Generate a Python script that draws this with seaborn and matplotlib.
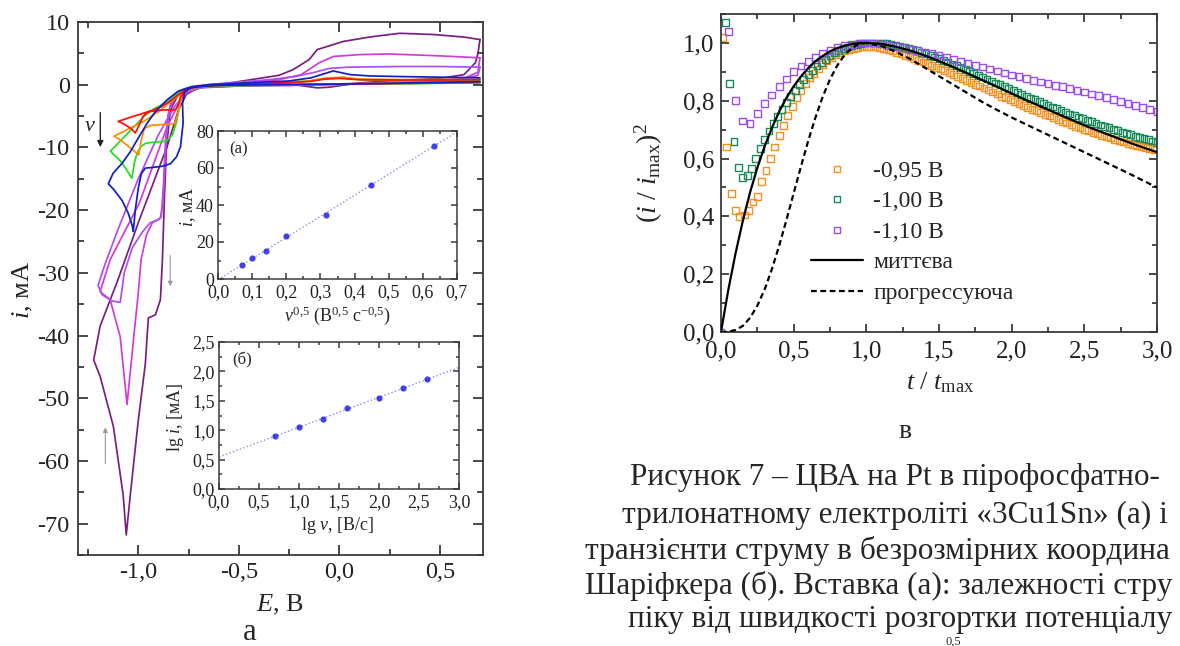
import numpy as np
import pandas as pd
import matplotlib
matplotlib.use("Agg")
import matplotlib.pyplot as plt
import seaborn as sns
from matplotlib.ticker import MultipleLocator, FuncFormatter
from matplotlib.lines import Line2D

# ---------------- CV data (E, V ; i, mA) ----------------
E_red = [0.70, 0.45, 0.20, -0.10, -0.40, -0.62, -0.72, -0.77, -0.80, -0.84, -0.88, -0.93, -0.99, -1.04, -1.10,
         -1.07, -1.04, -1.015, -0.995, -0.975, -0.95, -0.90, -0.85, -0.815, -0.80, -0.79, -0.77, -0.72, -0.60,
         -0.40, -0.25, -0.15, -0.07, 0.00, 0.10, 0.30, 0.50, 0.70]
I_red = [0.35, 0.25, 0.15, 0.05, 0.0, -0.1, -0.4, -0.9, -1.6, -2.6, -3.4, -4.1, -4.7, -5.2, -5.85,
         -6.3, -6.9, -7.7, -6.4, -5.0, -4.3, -4.1, -4.0, -4.0, -3.2, -2.0, -1.0, -0.3, 0.0,
         0.2, 0.35, 0.5, 0.9, 1.0, 0.8, 0.75, 0.75, 0.8]

E_orange = [0.70, 0.45, 0.20, -0.10, -0.40, -0.62, -0.72, -0.77, -0.80, -0.85, -0.90, -0.96, -1.02, -1.07, -1.121,
            -1.09, -1.05, -1.02, -0.998, -0.985, -0.97, -0.94, -0.90, -0.85, -0.82, -0.80, -0.79, -0.775, -0.73,
            -0.60, -0.40, -0.25, -0.15, -0.06, 0.02, 0.10, 0.30, 0.50, 0.70]
I_orange = [0.4, 0.3, 0.2, 0.05, 0.0, -0.1, -0.4, -1.0, -1.8, -3.0, -4.3, -5.6, -6.6, -7.4, -8.2,
            -8.8, -9.8, -10.6, -11.2, -8.8, -7.0, -6.5, -6.4, -6.3, -6.2, -4.5, -2.8, -1.2, -0.3,
            0.0, 0.2, 0.4, 0.6, 1.1, 1.2, 0.9, 0.8, 0.85, 0.9]

E_green = [0.70, 0.45, 0.20, -0.10, -0.40, -0.62, -0.72, -0.78, -0.82, -0.86, -0.92, -0.973, -1.03, -1.09, -1.139,
           -1.11, -1.08, -1.05, -1.032, -1.02, -1.005, -0.985, -0.96, -0.90, -0.86, -0.83, -0.81, -0.80, -0.795,
           -0.78, -0.74, -0.60, -0.40, -0.25, -0.15, -0.06, 0.02, 0.10, 0.30, 0.50, 0.70]
I_green = [0.3, 0.2, 0.1, 0.0, -0.1, -0.2, -0.5, -1.0, -1.8, -2.8, -3.8, -5.1, -7.0, -9.0, -10.6,
           -11.5, -12.5, -14.0, -14.9, -12.5, -10.8, -9.8, -9.3, -9.1, -9.0, -8.0, -6.0, -4.0, -2.5,
           -1.2, -0.3, 0.0, 0.2, 0.4, 0.6, 1.0, 1.1, 0.8, 0.6, 0.6, 0.6]

E_blue = [0.70, 0.45, 0.20, -0.10, -0.40, -0.60, -0.70, -0.76, -0.80, -0.86, -0.92, -0.955, -1.00, -1.04, -1.08,
          -1.125, -1.149, -1.12, -1.08, -1.05, -1.03, -1.025, -1.015, -1.00, -0.985, -0.965, -0.93, -0.88, -0.84,
          -0.81, -0.79, -0.777, -0.78, -0.77, -0.74, -0.65, -0.45, -0.25, -0.14, -0.07, -0.03, 0.055, 0.15,
          0.30, 0.50, 0.70]
I_blue = [0.5, 0.35, 0.2, 0.05, 0.0, -0.1, -0.3, -0.6, -1.0, -2.5, -4.5, -6.1, -8.5, -10.7, -12.5,
          -14.1, -15.8, -16.8, -18.5, -20.5, -22.5, -23.4, -20.0, -16.5, -14.2, -13.3, -13.2, -13.0, -12.6,
          -11.5, -9.9, -6.1, -3.0, -1.2, -0.4, 0.0, 0.3, 0.6, 1.1, 1.8, 2.2, 1.6, 1.4,
          1.3, 1.2, 1.1]

E_violet = [0.70, 0.69, 0.60, 0.40, 0.10, -0.20, -0.50, -0.68, -0.76, -0.82, -0.90, -1.00, -1.10, -1.17, -1.20,
            -1.18, -1.13, -1.09, -1.07, -1.03, -0.98, -0.94, -0.90, -0.885, -0.875, -0.865, -0.85, -0.82, -0.78,
            -0.72, -0.55, -0.35, -0.22, -0.12, -0.05, 0.05, 0.30, 0.50, 0.70]
I_violet = [2.8, 1.5, 0.8, 0.5, 0.2, 0.0, -0.1, -0.4, -1.2, -3.5, -8.0, -15.0, -23.0, -29.0, -32.0,
            -33.5, -34.5, -34.7, -30.0, -26.0, -23.5, -22.0, -21.5, -21.0, -16.0, -9.0, -4.5, -2.0, -0.8,
            -0.2, 0.3, 0.8, 1.3, 2.0, 2.6, 2.8, 2.9, 2.9, 2.8]

E_magenta = [0.70, 0.69, 0.62, 0.40, 0.00, -0.40, -0.68, -0.76, -0.80, -0.86, -0.995, -1.14, -1.19, -1.14, -1.09,
             -1.056, -1.025, -1.00, -0.986, -0.96, -0.93, -0.89, -0.875, -0.865, -0.855, -0.84, -0.81, -0.76,
             -0.65, -0.45, -0.30, -0.19, -0.10, -0.03, 0.10, 0.25, 0.50, 0.69, 0.70]
I_magenta = [4.3, 2.0, 1.0, 0.5, 0.1, -0.1, -0.4, -1.2, -3.0, -7.0, -18.9, -27.9, -33.0, -34.3, -40.2,
             -51.0, -41.0, -33.2, -27.9, -24.0, -22.0, -21.3, -18.0, -11.0, -6.0, -3.0, -1.5, -0.5,
             0.0, 0.4, 0.8, 1.6, 3.5, 4.5, 4.8, 4.9, 4.6, 4.3, 4.3]

E_purple = [0.70, 0.69, 0.677, 0.62, 0.50, 0.30, 0.10, -0.05, -0.11, -0.20, -0.50, -0.70, -0.76, -0.80, -0.856,
            -1.00, -1.10, -1.19, -1.222, -1.19, -1.124, -1.075, -1.06, -1.04, -1.00, -0.965, -0.95, -0.915, -0.89,
            -0.88, -0.87, -0.86, -0.84, -0.80, -0.75, -0.66, -0.50, -0.30, -0.23, -0.15, -0.11, 0.02, 0.15,
            0.30, 0.47, 0.62, 0.70]
I_purple = [7.2, 5.0, 3.5, 1.6, 1.0, 0.7, 0.3, -0.4, -0.5, -0.1, -0.2, -0.5, -1.5, -4.0, -9.8,
            -22.0, -31.0, -38.5, -43.9, -46.5, -54.5, -65.5, -71.8, -65.5, -53.5, -44.5, -37.2, -36.7, -34.3,
            -27.9, -18.0, -10.0, -4.0, -1.5, -0.5, -0.3, 0.5, 1.5, 2.4, 4.0, 5.6, 6.9, 7.6,
            8.2, 8.0, 7.6, 7.2]

# ---------------- Inset data ----------------
sqrt_v = [0.0707, 0.100, 0.141, 0.200, 0.316, 0.447, 0.632]
i_peak = [7.7, 11.3, 14.9, 23.4, 34.7, 50.9, 71.9]
lg_v = [0.70, 1.00, 1.30, 1.60, 2.00, 2.30, 2.60]
lg_i = [0.896, 1.06, 1.185, 1.378, 1.548, 1.712, 1.865]

# ---------------- Scharifker transients ----------------
t0_095, dt_095 = 0.01, 0.03
y_095 = [1.02, 0.64, 0.48, 0.42, 0.40, 0.405, 0.42, 0.45,
         0.47, 0.52, 0.56, 0.60, 0.64, 0.68, 0.715, 0.75, 0.78, 0.81, 0.835, 0.86, 0.88, 0.895, 0.91,
         0.925, 0.94,
         0.95, 0.96, 0.967, 0.973, 0.978, 0.982, 0.985, 0.987, 0.988, 0.988,
         0.987, 0.985, 0.981, 0.977, 0.972, 0.967, 0.962, 0.957, 0.952, 0.946,
         0.940, 0.934, 0.928, 0.922, 0.916, 0.910, 0.904, 0.897, 0.890, 0.884,
         0.877, 0.871, 0.864, 0.857, 0.851, 0.844, 0.837, 0.830, 0.823, 0.816,
         0.810, 0.804, 0.797, 0.790, 0.784, 0.777, 0.771, 0.765, 0.759, 0.753,
         0.747, 0.741, 0.735, 0.729, 0.723, 0.717, 0.712, 0.706, 0.701, 0.696,
         0.691, 0.686, 0.681, 0.676, 0.671, 0.666, 0.661, 0.657, 0.653, 0.649,
         0.645, 0.641, 0.637, 0.634, 0.631]
t0_100, dt_100 = 0.03, 0.03
y_100 = [1.07, 0.86, 0.66, 0.57, 0.535, 0.54, 0.565, 0.60, 0.635, 0.665,
         0.695, 0.72, 0.745, 0.77, 0.795, 0.815, 0.835, 0.855, 0.873, 0.89,
         0.905, 0.92, 0.932, 0.944, 0.955, 0.965, 0.973, 0.98, 0.986, 0.991,
         0.995, 0.998, 1.0, 1.0, 1.0, 1.0,
         0.999, 0.997, 0.994, 0.992, 0.988, 0.985, 0.981, 0.976, 0.973, 0.968,
         0.962, 0.957, 0.951, 0.945, 0.939, 0.934, 0.927, 0.921, 0.914, 0.908,
         0.902, 0.895, 0.888, 0.882, 0.875, 0.868, 0.861, 0.855, 0.848, 0.842,
         0.835, 0.829, 0.822, 0.815, 0.809, 0.803, 0.796, 0.790, 0.784, 0.778,
         0.772, 0.766, 0.760, 0.754, 0.748, 0.743, 0.738, 0.732, 0.727, 0.722,
         0.716, 0.711, 0.706, 0.701, 0.696, 0.691, 0.687, 0.682, 0.677, 0.673,
         0.669, 0.665, 0.661, 0.655]
t0_110, dt_110 = 0.0, 0.05
y_110 = [0.0, 1.04, 0.80, 0.73, 0.72, 0.755, 0.79, 0.82, 0.85, 0.875,
         0.90, 0.92, 0.935, 0.95, 0.962, 0.975, 0.985, 0.99, 0.995, 1.0,
         1.0, 1.0, 0.996, 0.992, 0.988, 0.983, 0.978, 0.973, 0.968, 0.963,
         0.958, 0.951, 0.944, 0.937, 0.930, 0.923, 0.917, 0.910, 0.903, 0.896,
         0.889, 0.883, 0.877, 0.871, 0.865, 0.859, 0.853, 0.848, 0.842, 0.836,
         0.830, 0.823, 0.817, 0.810, 0.803, 0.797, 0.790, 0.783, 0.777, 0.770,
         0.763]
t_inst = [0, .05, .1, .15, .2, .25, .3, .35, .4, .45, .5, .55, .6, .65, .7, .75, .8, .85, .9, .95,
          1.0, 1.1, 1.2, 1.3, 1.4, 1.5, 1.6, 1.7, 1.8, 1.9, 2.0, 2.1, 2.2, 2.3, 2.4, 2.5, 2.6, 2.7, 2.8, 2.9, 3.0]
y_inst = [0, .145, .272, .384, .483, .568, .642, .706, .762, .810, .850, .884, .913, .937, .955, .971, .982,
          .990, .996, .999, 1.0, .997, .987, .974, .957, .937, .916, .894, .871, .848, .825, .802, .780, .758,
          .736, .715, .695, .676, .657, .639, .622]
t_prog = [0, .05, .1, .15, .2, .25, .3, .35, .4, .45, .5, .55, .6, .65, .7, .75, .8, .85, .9, .95,
          1.0, 1.1, 1.2, 1.3, 1.4, 1.5, 1.6, 1.7, 1.8, 1.9, 2.0, 2.2, 2.4, 2.6, 2.8, 3.0]
y_prog = [0, .001, .007, .021, .049, .091, .147, .217, .298, .387, .480, .572, .661, .742, .814, .874, .922,
          .958, .982, .996, 1.0, .99, .97, .945, .915, .885, .855, .825, .795, .768, .742, .694, .646, .598,
          .55, .50]

legend_labels = ["-0,95 В", "-1,00 В", "-1,10 В", "миттєва", "прогрессуюча"]
caption = [("Рисунок 7 – ЦВА на Pt в пірофосфатно-", 630, 477),
           ("трилонатному електроліті «3Cu1Sn» (а) і", 622, 515),
           ("транзієнти струму в безрозмірних координа", 585, 551),
           ("Шаріфкера (б). Вставка (а): залежності стру", 585, 586),
           ("піку від швидкості розгортки потенціалу", 628, 620)]

# ---------------- style ----------------
sns.set_style("ticks")
plt.rcParams["font.family"] = ["Liberation Serif", "DejaVu Serif"]
plt.rcParams["mathtext.fontset"] = "custom"
plt.rcParams["mathtext.rm"] = "Liberation Serif"
plt.rcParams["mathtext.it"] = "Liberation Serif:italic"
plt.rcParams["mathtext.bf"] = "Liberation Serif:bold"
plt.rcParams["axes.unicode_minus"] = False

W, H = 1180, 646
fig = plt.figure(figsize=(W / 100, H / 100), dpi=100)


def add_ax(l, t, r, b):
    return fig.add_axes([l / W, 1 - b / H, (r - l) / W, (b - t) / H])


def fmt(dec):
    def f(v, p):
        if abs(v) < 1e-9:
            v = 0.0
        return f"{v:.{dec}f}".replace(".", ",")
    return FuncFormatter(f)


SP = "#3a3a3a"


def style(ax, fs, maj, mnr, lw=1.3, padx=3, pady=3):
    for s in ax.spines.values():
        s.set_visible(True)
        s.set_linewidth(lw)
        s.set_color(SP)
    ax.tick_params(which="both", direction="in", top=True, right=True, colors=SP,
                   width=lw, labelsize=fs, labelcolor="#222222")
    ax.tick_params(axis="x", which="both", pad=padx)
    ax.tick_params(axis="y", which="both", pad=pady)
    ax.tick_params(which="major", length=maj)
    ax.tick_params(which="minor", length=mnr)


# ---------------- main CV axes ----------------
ax = add_ax(78, 22, 483, 555)
loops = [(E_purple, I_purple, "#7a1f80"),
         (E_magenta, I_magenta, "#d03cd8"),
         (E_violet, I_violet, "#b04cf2"),
         (E_green, I_green, "#22dd22"),
         (E_orange, I_orange, "#ff8c00"),
         (E_red, I_red, "#ff1010"),
         (E_blue, I_blue, "#1020c8")]
for E, I, c in loops:
    sns.lineplot(x=E, y=I, sort=False, estimator=None, color=c, lw=1.25, ax=ax)
ax.set_xlim(-1.3, 0.715)
ax.set_ylim(-75, 10)
ax.xaxis.set_major_locator(MultipleLocator(0.5))
ax.xaxis.set_minor_locator(MultipleLocator(0.25))
ax.yaxis.set_major_locator(MultipleLocator(10))
ax.yaxis.set_minor_locator(MultipleLocator(5))
ax.xaxis.set_major_formatter(fmt(1))
ax.yaxis.set_major_formatter(fmt(0))
style(ax, 17.5, 7, 4, padx=5, pady=6)
ax.set_xlabel("")
ax.set_ylabel("")
ax.text(0.499, -0.094, r"$E$, В", transform=ax.transAxes, ha="center", va="center", fontsize=19)
ax.text(-0.135, 0.497, r"$i$, мА", transform=ax.transAxes, ha="center", va="center", fontsize=19, rotation=90)
ax.annotate("", xy=(-1.189, -10.4), xytext=(-1.189, -4.0),
            arrowprops=dict(arrowstyle="-|>", color="#222222", lw=1.0, mutation_scale=9))
ax.text(-1.24, -6.7, r"$v$", ha="center", va="center", fontsize=16)
ax.annotate("", xy=(-0.841, -32.6), xytext=(-0.841, -26.8),
            arrowprops=dict(arrowstyle="-|>", color="#9a9a9a", lw=0.8, mutation_scale=7))
ax.annotate("", xy=(-1.164, -54.2), xytext=(-1.164, -60.9),
            arrowprops=dict(arrowstyle="-|>", color="#9a9a9a", lw=0.8, mutation_scale=7))

# ---------------- inset (a) ----------------
BL = "#1414e6"
LB = "#8c8ce8"
axa = add_ax(218, 131, 457, 279)
axa.set_xlim(0, 0.7)
axa.set_ylim(0, 80)
sns.regplot(x=sqrt_v, y=i_peak, ci=None, truncate=False, ax=axa,
            scatter_kws=dict(s=20, color=BL, zorder=3, linewidths=0),
            line_kws=dict(color=LB, lw=1.0, ls=":"))
axa.set_xlim(0, 0.7)
axa.set_ylim(0, 80)
axa.xaxis.set_major_locator(MultipleLocator(0.1))
axa.xaxis.set_minor_locator(MultipleLocator(0.05))
axa.yaxis.set_major_locator(MultipleLocator(20))
axa.yaxis.set_minor_locator(MultipleLocator(10))
axa.xaxis.set_major_formatter(fmt(1))
axa.yaxis.set_major_formatter(fmt(0))
style(axa, 13, 4, 2.5, lw=1.1, padx=4, pady=3)
axa.text(-0.126, 0.486, r"$i$, мА", transform=axa.transAxes, ha="center", va="center", fontsize=13, rotation=90)
axa.text(0.498, -0.25, r"$v^{0{,}5}$ (В$^{0{,}5}$ с$^{-0{,}5}$)", transform=axa.transAxes,
         ha="center", va="center", fontsize=13)
axa.text(0.084, 0.878, "(а)", transform=axa.transAxes, ha="center", va="center", fontsize=12)

# ---------------- inset (б) ----------------
axb = add_ax(219, 342, 459, 489)
axb.set_xlim(0, 3.0)
axb.set_ylim(0, 2.5)
sns.regplot(x=lg_v, y=lg_i, ci=None, truncate=False, ax=axb,
            scatter_kws=dict(s=20, color=BL, zorder=3, linewidths=0),
            line_kws=dict(color=LB, lw=1.0, ls=":"))
axb.set_xlim(0, 3.0)
axb.set_ylim(0, 2.5)
axb.xaxis.set_major_locator(MultipleLocator(0.5))
axb.xaxis.set_minor_locator(MultipleLocator(0.25))
axb.yaxis.set_major_locator(MultipleLocator(0.5))
axb.yaxis.set_minor_locator(MultipleLocator(0.25))
axb.xaxis.set_major_formatter(fmt(1))
axb.yaxis.set_major_formatter(fmt(1))
style(axb, 13, 4, 2.5, lw=1.1, padx=4, pady=3)
axb.text(-0.183, 0.49, r"lg $i$, [мА]", transform=axb.transAxes, ha="center", va="center", fontsize=13, rotation=90)
axb.text(0.496, -0.25, r"lg $v$, [В/с]", transform=axb.transAxes, ha="center", va="center", fontsize=13)
axb.text(0.096, 0.878, "(б)", transform=axb.transAxes, ha="center", va="center", fontsize=12)

# ---------------- right: Scharifker plot ----------------
OR, GR, PU = "#f7901e", "#1b8a5a", "#9a4cf0"
t_095 = t0_095 + dt_095 * np.arange(len(y_095))
t_100 = t0_100 + dt_100 * np.arange(len(y_100))
t_110 = t0_110 + dt_110 * np.arange(len(y_110))
axr = add_ax(721, 14, 1157, 332)
for tt, yy, c in [(t_095, y_095, OR), (t_100, y_100, GR), (t_110, y_110, PU)]:
    sns.scatterplot(x=tt, y=yy, marker="s", s=24, facecolor="none", edgecolor=c,
                    linewidth=1.0, ax=axr, legend=False, zorder=2)
sns.lineplot(x=t_inst, y=y_inst, color="black", lw=1.6, ax=axr, sort=False, estimator=None, zorder=3)
sns.lineplot(x=t_prog, y=y_prog, color="black", lw=1.6, ax=axr, sort=False, estimator=None, zorder=3,
             linestyle=(0, (2.6, 1.6)))
axr.set_xlim(0, 3.0)
axr.set_ylim(0, 1.1)
axr.xaxis.set_major_locator(MultipleLocator(0.5))
axr.xaxis.set_minor_locator(MultipleLocator(0.25))
axr.yaxis.set_major_locator(MultipleLocator(0.2))
axr.yaxis.set_minor_locator(MultipleLocator(0.1))
axr.xaxis.set_major_formatter(fmt(1))
axr.yaxis.set_major_formatter(fmt(1))
style(axr, 18, 6, 3.5, padx=6, pady=5)
axr.text(-0.165, 0.5, r"$(i\ /\ i_{\mathrm{max}})^2$", transform=axr.transAxes, ha="center", va="center",
         fontsize=20, rotation=90)
axr.text(0.502, -0.16, r"$t\ /\ t_{\mathrm{max}}$", transform=axr.transAxes, ha="center", va="center", fontsize=19)
handles = [Line2D([], [], ls="none", marker="s", ms=5, mfc="none", mec=OR, mew=1.0),
           Line2D([], [], ls="none", marker="s", ms=5, mfc="none", mec=GR, mew=1.0),
           Line2D([], [], ls="none", marker="s", ms=5, mfc="none", mec=PU, mew=1.0),
           Line2D([], [], color="black", lw=1.6),
           Line2D([], [], color="black", lw=1.6, ls=(0, (2.6, 1.6)))]
axr.legend(handles=handles, labels=legend_labels, loc="upper left", bbox_to_anchor=(0.206, 0.54),
           frameon=False, fontsize=17, handlelength=2.2, handletextpad=0.45, labelspacing=0.38,
           borderpad=0, borderaxespad=0)

# ---------------- figure texts ----------------
fig.text(250 / W, 1 - 633 / H, "а", ha="center", va="center", fontsize=22)
fig.text(905 / W, 1 - 432 / H, "в", ha="center", va="center", fontsize=20)
for s, x, y in caption:
    fig.text(x / W, 1 - y / H, s, ha="left", va="center", fontsize=22.5)
fig.text(953 / W, 1 - 642 / H, "0,5", ha="center", va="center", fontsize=9)

fig.savefig("out.png", dpi=100)
